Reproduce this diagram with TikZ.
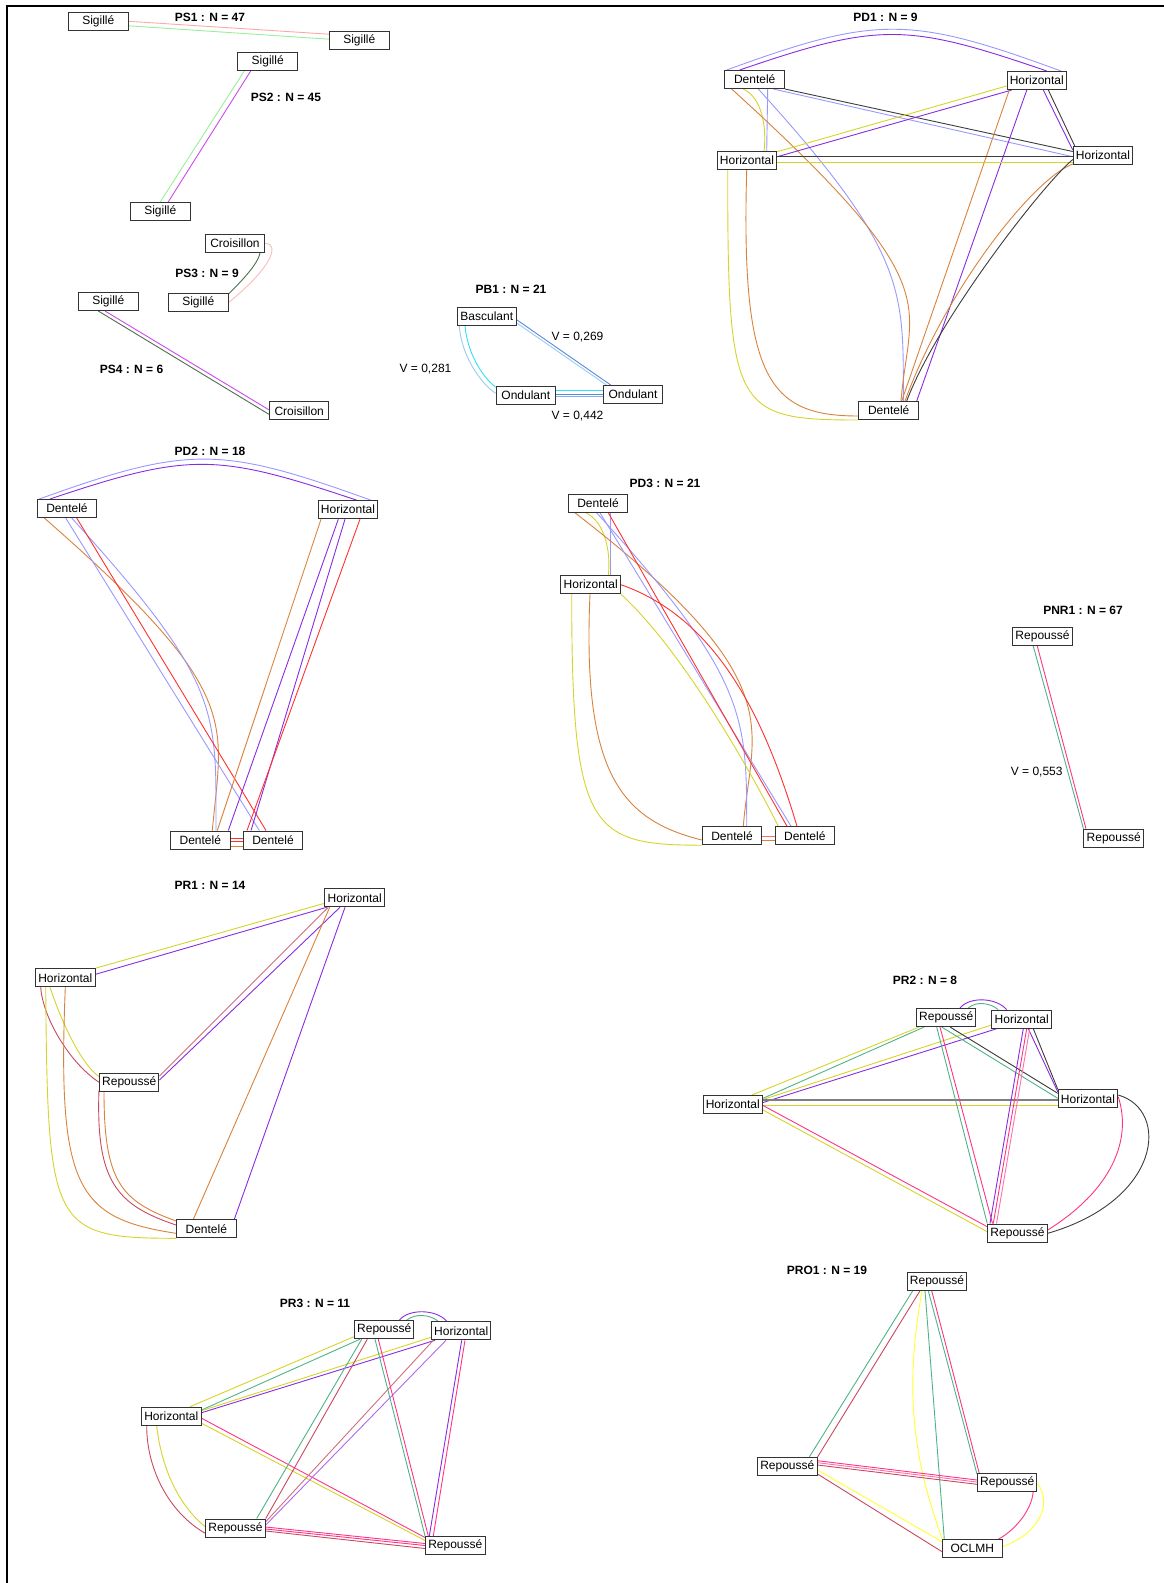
\documentclass[tikz,border=0pt]{standalone}
\usepackage{fontspec}
\setmainfont{Liberation Sans}
\usepackage{xcolor}
\usetikzlibrary{calc, positioning, backgrounds}
\definecolor{pspink}{HTML}{FFA8A8}
\definecolor{psgreen}{HTML}{98F098}
\definecolor{psmag}{HTML}{D048F0}
\definecolor{psdark}{HTML}{4F6F4F}
\definecolor{pbcyan}{HTML}{30E0F0}
\definecolor{pblight}{HTML}{98CCF0}
\definecolor{pbsteel}{HTML}{5A88D8}
\definecolor{pdblue}{HTML}{9898FF}
\definecolor{pdviolet}{HTML}{8A2BE2}
\definecolor{pdorange}{HTML}{D9823B}
\definecolor{pdyel}{HTML}{D4D42A}
\definecolor{pdblack}{HTML}{3C3C3C}
\definecolor{pdred}{HTML}{FF3030}
\definecolor{prpink}{HTML}{FF3385}
\definecolor{prgreen}{HTML}{4FB386}
\definecolor{prcrim}{HTML}{C8485F}
\definecolor{prgray}{HTML}{7F7F7F}
\definecolor{bryel}{HTML}{FFFF30}

\begin{document}
\begin{tikzpicture}[
  x=1pt, y=-1pt,
  font=\fontsize{12}{14}\selectfont,
  block/.style={draw=black!80, fill=white, line width=1pt, inner sep=1pt,
                minimum width=59.5pt, minimum height=18pt},
  ttl/.style={font=\fontsize{12}{14}\selectfont\bfseries, inner sep=0pt},
  vlab/.style={inner sep=0pt},
  lnk/.style={line width=0.9pt}
]
\useasboundingbox (0,0) rectangle (1164,1583);
\draw[line width=2pt] (7,1583) -- (7,5.7) -- (1164,5.7);

% ---------------- PS ----------------
\node[ttl] (tps1) at (210,17.3) {PS1 : N = 47};
\node[block] (s1a) at (98.3,21.3) {Sigillé};
\node[block] (s1b) at (359.3,40.2) {Sigillé};
\node[block] (s2a) at (267.7,61.5) {Sigillé};
\node[ttl] (tps2) at (286,97.7) {PS2 : N = 45};
\node[block] (s2b) at (160.3,211.3) {Sigillé};
\node[block] (s3c) at (235,243.3) {Croisillon};
\node[ttl] (tps3) at (207,273.3) {PS3 : N = 9};
\node[block] (s3s) at (198.3,302.5) {Sigillé};
\node[block] (s4s) at (108.3,301.5) {Sigillé};
\node[ttl] (tps4) at (131.5,369.3) {PS4 : N = 6};
\node[block] (s4c) at (299.2,410.8) {Croisillon};

% ---------------- PB1 ----------------
\node[ttl] (tpb1) at (511,289.3) {PB1 : N = 21};
\node[block] (bas) at (486.8,316.2) {Basculant};
\node[block] (ond1) at (525.8,395.2) {Ondulant};
\node[block] (ond2) at (633,394.7) {Ondulant};
\node[vlab] (vb1) at (577.5,336.7) {V = 0,269};
\node[vlab] (vb2) at (425.5,369.3) {V = 0,281};
\node[vlab] (vb3) at (577.5,416) {V = 0,442};

% ---------------- PD1 ----------------
\node[ttl] (tpd1) at (885.5,17.3) {PD1 : N = 9};
\node[block] (d1a) at (754.7,79.5) {Dentelé};
\node[block] (d1h) at (1036.8,80.5) {Horizontal};
\node[block] (d1l) at (747,160.5) {Horizontal};
\node[block] (d1r) at (1103,155.5) {Horizontal};
\node[block] (d1b) at (888.7,410.5) {Dentelé};

% ---------------- PD2 ----------------
\node[ttl] (tpd2) at (210,451.7) {PD2 : N = 18};
\node[block] (d2a) at (67,508.5) {Dentelé};
\node[block] (d2h) at (348,509.7) {Horizontal};
\node[block] (d2l) at (200.3,840) {Dentelé};
\node[block, right=12.2pt of d2l] (d2r) {Dentelé};

% ---------------- PD3 ----------------
\node[ttl] (tpd3) at (665,483.3) {PD3 : N = 21};
\node[block] (d3a) at (598,503.3) {Dentelé};
\node[block] (d3h) at (590.7,584.7) {Horizontal};
\node[block] (d3l) at (732,835.7) {Dentelé};
\node[block, right=12.3pt of d3l] (d3r) {Dentelé};

% ---------------- PNR1 ----------------
\node[ttl] (tpn1) at (1083,610) {PNR1 : N = 67};
\node[block] (n1a) at (1042.5,636.7) {Repoussé};
\node[block] (n1b) at (1113.7,838.2) {Repoussé};
\node[vlab] (vn1) at (1036.7,771.7) {V = 0,553};

% ---------------- PR1 ----------------
\node[ttl] (tpr1) at (210,885) {PR1 : N = 14};
\node[block] (r1h) at (354.7,897.8) {Horizontal};
\node[block] (r1l) at (65.3,977.7) {Horizontal};
\node[block] (r1r) at (129.2,1082.2) {Repoussé};
\node[block] (r1d) at (206.3,1228.8) {Dentelé};

% ---------------- PR2 ----------------
\node[ttl] (tpr2) at (925,980.7) {PR2 : N = 8};
\node[block] (r2r) at (946.2,1017.5) {Repoussé};
\node[block] (r2h) at (1021.7,1019.2) {Horizontal};
\node[block] (r2l) at (732.8,1104.5) {Horizontal};
\node[block] (r2e) at (1088,1098.8) {Horizontal};
\node[block] (r2b) at (1017.5,1233) {Repoussé};

% ---------------- PR3 ----------------
\node[ttl] (tpr3) at (315,1303.3) {PR3 : N = 11};
\node[block] (r3r) at (384.2,1329.7) {Repoussé};
\node[block] (r3h) at (461.2,1330.8) {Horizontal};
\node[block] (r3l) at (171.3,1416.2) {Horizontal};
\node[block] (r3a) at (235.5,1528) {Repoussé};
\node[block] (r3b) at (455.3,1545.5) {Repoussé};

% ---------------- PRO1 ----------------
\node[ttl] (tpo1) at (827,1270) {PRO1 : N = 19};
\node[block] (o1t) at (937,1281.3) {Repoussé};
\node[block] (o1l) at (787.3,1466.5) {Repoussé};
\node[block] (o1r) at (1007.2,1482.5) {Repoussé};
\node[block] (o1m) at (972.3,1548.7) {OCLMH};

% ---------------- Links ----------------
\begin{scope}[on background layer]
% PS
\draw[lnk, pspink] (s1a.east) -- ($(s1b.west)+(0,-6)$);
\draw[lnk, psgreen] ($(s1a.east)+(0,4.5)$) -- ($(s1b.west)+(0,-1)$);
\draw[lnk, psgreen] ($(s2a.south)+(-23.4,0)$) -- (s2b.north);
\draw[lnk, psmag] ($(s2a.south)+(-17,0)$) -- ($(s2b.north)+(8,0)$);
\draw[lnk, psdark] ($(s3c.south)+(25,0)$) .. controls +(-2,12) and +(10,-10) .. ($(s3s.north east)+(0,1)$);
\draw[lnk, pspink!80] (s3c.east) .. controls +(13,0) and +(47,-38) .. (s3s.east);
\draw[lnk, psmag] ($(s4s.south)+(-3.3,0)$) -- ($(s4c.west)+(0,-1)$);
\draw[lnk, psdark] ($(s4s.south)+(-10,0)$) -- ($(s4c.west)+(0,3.5)$);

% PB1
\draw[lnk, pbcyan] ($(bas.south)+(-21.8,0)$) .. controls +(2,25) and +(-15,-12) .. ($(ond1.west)+(0,-8)$);
\draw[lnk, pblight] ($(bas.south)+(-27.5,0)$) .. controls +(2,30) and +(-15,-10) .. ($(ond1.west)+(0,-2)$);
\draw[lnk, pbsteel] ($(bas.east)+(0,3.8)$) -- ($(ond2.north)+(-22,0)$);
\draw[lnk, pblight] ($(bas.east)+(0,7)$) -- ($(ond2.north)+(-26.3,0)$);
\draw[lnk, pbcyan] ($(ond1.east)+(0,-5)$) -- ($(ond2.west)+(0,-4.5)$);
\draw[lnk, pbsteel] ($(ond1.east)+(0,-1)$) -- ($(ond2.west)+(0,-0.5)$);
\draw[lnk, pbsteel!70] ($(ond1.east)+(0,1)$) -- ($(ond2.west)+(0,1.5)$);

% PD1
\draw[lnk, pdblue] ($(d1a.north)+(-28,0)$) .. controls +(150,-55) and +(-150,-55) .. ($(d1h.north)+(24.2,0)$);
\draw[lnk, pdviolet] ($(d1a.north)+(-15,0)$) .. controls +(140,-48) and +(-140,-48) .. ($(d1h.north)+(10,0)$);
\draw[lnk, pdblack] (d1a.south east) -- ($(d1r.west)+(0,-4)$);
\draw[lnk, pdblue] ($(d1a.south)+(18.6,0)$) -- ($(d1r.west)+(0,1.2)$);
\draw[lnk, pdblue] ($(d1a.south)+(13,0)$) -- ($(d1l.north)+(19.7,0)$);
\draw[lnk, pdyel] ($(d1a.south)+(-11.4,0)$) .. controls +(18,8) and +(3,-25) .. ($(d1l.north)+(17,0)$);
\draw[lnk, pdblue] ($(d1a.south)+(3.6,0)$) .. controls +(150,165) and +(0,-110) .. ($(d1b.north)+(14.6,0)$);
\draw[lnk, pdorange] ($(d1a.south)+(-23,0)$) .. controls +(220,200) and +(8,-100) .. ($(d1b.north)+(12.3,0)$);
\draw[lnk, pdyel] ($(d1h.west)+(0,5.5)$) -- ($(d1l.east)+(0,-8.8)$);
\draw[lnk, pdviolet] ($(d1h.south)+(-25,0)$) -- ($(d1l.east)+(0,-3.8)$);
\draw[lnk, pdviolet] ($(d1h.south)+(6.5,0)$) -- ($(d1r.west)+(0,-5.5)$);
\draw[lnk, pdblack] ($(d1h.south)+(11.5,0)$) -- ($(d1r.north west)+(2,0)$);
\draw[lnk, pdorange] ($(d1h.south)+(-27.5,0)$) -- ($(d1b.north)+(13,0)$);
\draw[lnk, pdviolet] ($(d1h.south)+(-10,0)$) -- ($(d1b.north)+(28,0)$);
\draw[lnk, pdblack] ($(d1l.east)+(0,-4.5)$) -- ($(d1r.west)+(0,0.5)$);
\draw[lnk, pdyel, line width=1.6pt] ($(d1l.east)+(0,1.8)$) -- ($(d1r.west)+(0,6.8)$);
\draw[lnk, pdyel] ($(d1l.south)+(-19.3,0)$) .. controls +(0,240) and +(-125,0) .. (d1b.south west);
\draw[lnk, pdorange] ($(d1l.south)+(-0.3,0)$) .. controls +(-6,210) and +(-89,0) .. ($(d1b.west)+(0,5.5)$);
\draw[lnk, pdorange] ($(d1r.south west)+(0,-1)$) .. controls +(-40,15) and +(40,-110) .. ($(d1b.north)+(16.3,0)$);
\draw[lnk, pdblack] ($(d1r.west)+(0,4)$) .. controls +(-30,25) and +(30,-80) .. ($(d1b.north)+(18,0)$);

% PD2
\draw[lnk, pdblue] ($(d2a.north)+(-27.7,0)$) .. controls +(150,-54) and +(-150,-54) .. ($(d2h.north)+(23,0)$);
\draw[lnk, pdviolet] ($(d2a.north)+(-17,0)$) .. controls +(140,-47) and +(-140,-47) .. ($(d2h.north)+(8.7,0)$);
\draw[lnk, pdorange] ($(d2a.south)+(-22.7,0)$) .. controls +(200,175) and +(10,-110) .. ($(d2l.north)+(12,0)$);
\draw[lnk, pdblue] ($(d2a.south)+(4.7,0)$) .. controls +(150,165) and +(0,-120) .. ($(d2l.north)+(15.7,0)$);
\draw[lnk, pdblue] ($(d2a.south)+(-1.3,0)$) -- ($(d2r.north)+(-13.7,0)$);
\draw[lnk, pdred] ($(d2a.south)+(9.7,0)$) -- ($(d2r.north)+(-7,0)$);
\draw[lnk, pdorange] ($(d2h.south)+(-27,0)$) -- ($(d2l.north)+(17,0)$);
\draw[lnk, pdviolet] ($(d2h.south)+(-9.7,0)$) -- ($(d2l.north)+(28,0)$);
\draw[lnk, pdviolet] ($(d2h.south)+(-3,0)$) -- ($(d2r.north)+(-22,0)$);
\draw[lnk, pdred] ($(d2h.south)+(12,0)$) -- ($(d2r.north)+(-26,0)$);
\draw[lnk, pdred] ($(d2l.east)+(0,-1.5)$) -- ($(d2r.west)+(0,-1.5)$);
\draw[lnk, pdred] ($(d2l.east)+(0,1.5)$) -- ($(d2r.west)+(0,1.5)$);
\draw[lnk, pdorange] ($(d2l.east)+(0,6)$) -- ($(d2r.west)+(0,6)$);

% PD3
\draw[lnk, pdyel] ($(d3a.south)+(-12.3,0)$) .. controls +(18,8) and +(3,-25) .. ($(d3h.north)+(17.6,0)$);
\draw[lnk, pdblue] ($(d3a.south)+(12.7,0)$) -- ($(d3h.north)+(20,0)$);
\draw[lnk, pdorange] ($(d3a.south)+(-23,0)$) .. controls +(220,170) and +(8,-100) .. ($(d3l.north)+(11.3,0)$);
\draw[lnk, pdblue] ($(d3a.south)+(-1.3,0)$) .. controls +(150,165) and +(0,-110) .. ($(d3l.north)+(14.7,0)$);
\draw[lnk, pdblue] ($(d3a.south)+(2,0)$) -- ($(d3r.north)+(-13.8,0)$);
\draw[lnk, pdred] ($(d3a.south)+(10.3,0)$) -- ($(d3r.north)+(-17.8,0)$);
\draw[lnk, pdred] (d3h.east) .. controls +(100,35) and +(-30,-100) .. ($(d3r.north)+(-7.8,0)$);
\draw[lnk, pdyel] (d3h.south east) .. controls +(60,55) and +(-30,-60) .. ($(d3r.north)+(-26.5,0)$);
\draw[lnk, pdyel] ($(d3h.south)+(-19,0)$) .. controls +(0,236) and +(-112,0) .. (d3l.south west);
\draw[lnk, pdorange] ($(d3h.south)+(-0.7,0)$) .. controls +(-8,180) and +(-80,-20) .. ($(d3l.west)+(0,4.3)$);
\draw[lnk, pdred!70] ($(d3l.east)+(0,0.3)$) -- ($(d3r.west)+(0,0.3)$);
\draw[lnk, pdorange] ($(d3l.east)+(0,5)$) -- ($(d3r.west)+(0,5)$);

% PNR1
\draw[lnk, prgreen] ($(n1a.south)+(-9.2,0)$) -- (n1b.north west);
\draw[lnk, prpink] ($(n1a.south)+(-5.2,0)$) -- ($(n1b.north)+(-27.7,0)$);

% PR1
\draw[lnk, pdyel] (r1l.north east) -- ($(r1h.west)+(0,5.5)$);
\draw[lnk, pdviolet] ($(r1l.east)+(0,-3.4)$) -- ($(r1h.south)+(-28,0)$);
\draw[lnk, prcrim!80] ($(r1h.south)+(-26.4,0)$) -- ($(r1r.east)+(0,-6.2)$);
\draw[lnk, pdviolet] ($(r1h.south)+(-14.7,0)$) -- ($(r1r.east)+(0,-2.2)$);
\draw[lnk, pdorange] ($(r1h.south)+(-25,0)$) -- ($(r1d.north)+(-13,0)$);
\draw[lnk, pdviolet] ($(r1h.south)+(-9.7,0)$) -- ($(r1d.north)+(28,0)$);
\draw[lnk, prcrim] ($(r1l.south)+(-24.6,0)$) .. controls +(2,30) and +(-30,-20) .. (r1r.west);
\draw[lnk, pdyel] ($(r1l.south)+(-15.3,0)$) .. controls +(10,30) and +(-20,-15) .. ($(r1r.west)+(0,-5.5)$);
\draw[lnk, pdyel] ($(r1l.south)+(-19.6,0)$) .. controls +(2,240) and +(-125,0) .. (r1d.south west);
\draw[lnk, pdorange] (r1l.south) .. controls +(-8,200) and +(-100,-15) .. ($(r1d.west)+(0,4.5)$);
\draw[lnk, prcrim] ($(r1r.south west)+(0,-1)$) .. controls +(-3,90) and +(-60,-20) .. ($(r1d.west)+(0,-3.8)$);
\draw[lnk, pdorange] ($(r1r.south)+(-25.2,0)$) .. controls +(0,90) and +(-55,-20) .. ($(r1d.west)+(0,-7.8)$);

% PR2
\draw[lnk, pdviolet] ($(r2r.north)+(13.8,0)$) .. controls +(10,-12) and +(-10,-12) .. ($(r2h.north)+(-15,0)$);
\draw[lnk, prgreen] ($(r2r.north)+(22,0)$) .. controls +(8,-7) and +(-8,-7) .. ($(r2h.north)+(-23.4,0)$);
\draw[lnk, pdyel] ($(r2l.north)+(19,0)$) -- ($(r2r.south)+(-27,0)$);
\draw[lnk, prgreen] ($(r2l.east)+(0,-6.2)$) -- ($(r2r.south)+(-22,0)$);
\draw[lnk, pdyel] ($(r2l.east)+(0,-5)$) -- ($(r2h.west)+(0,5.8)$);
\draw[lnk, pdviolet] ($(r2l.east)+(0,-2)$) -- ($(r2h.south)+(-25,0)$);
\draw[lnk, prgray, line width=1.6pt] ($(r2l.east)+(0,-4.5)$) -- ($(r2e.west)+(0,1.2)$);
\draw[lnk, pdyel] ($(r2l.east)+(0,0.8)$) -- ($(r2e.west)+(0,6.5)$);
\draw[lnk, prpink] ($(r2l.east)+(0,1)$) -- ($(r2b.west)+(0,-6.3)$);
\draw[lnk, pdyel] ($(r2l.east)+(0,5.5)$) -- ($(r2b.west)+(0,-1.3)$);
\draw[lnk, pdblack] ($(r2r.south)+(3.8,0)$) -- ($(r2e.west)+(0,-5.5)$);
\draw[lnk, prgreen] ($(r2r.south)+(-4.5,0)$) -- ($(r2e.west)+(0,-0.5)$);
\draw[lnk, prgreen] ($(r2r.south)+(-9.5,0)$) -- (r2b.north west);
\draw[lnk, prpink] ($(r2r.south)+(-6.2,0)$) -- ($(r2b.north)+(-25,0)$);
\draw[lnk, pdblack] ($(r2h.south)+(11.6,0)$) -- (r2e.north west);
\draw[lnk, pdviolet] ($(r2h.south)+(6.6,0)$) -- ($(r2e.west)+(0,-7)$);
\draw[lnk, pdviolet] ($(r2h.south)+(1.6,0)$) -- ($(r2b.north)+(-27.5,0)$);
\draw[lnk, prpink] ($(r2h.south)+(5,0)$) -- ($(r2b.north)+(-24.2,0)$);
\draw[lnk, prpink!70] ($(r2h.south)+(8,0)$) -- ($(r2b.north)+(-21,0)$);
\draw[lnk, prpink] ($(r2e.east)+(0,-2)$) .. controls +(14,43) and +(64,-40) .. ($(r2b.east)+(0,-3)$);
\draw[lnk, pdblack] ($(r2e.east)+(0,-3.8)$) .. controls +(52,15) and +(114,-33) .. ($(r2b.east)+(0,0.3)$);

% PR3
\draw[lnk, pdviolet] ($(r3r.north)+(15,0)$) .. controls +(10,-12) and +(-10,-12) .. ($(r3h.north)+(-14.5,0)$);
\draw[lnk, prgreen] ($(r3r.north)+(22.5,0)$) .. controls +(8,-7) and +(-8,-7) .. ($(r3h.north)+(-23,0)$);
\draw[lnk, pdyel] ($(r3l.north)+(18.7,0)$) -- ($(r3r.west)+(0,7)$);
\draw[lnk, prgreen] ($(r3l.east)+(0,-6.2)$) -- ($(r3r.south)+(-24.2,0)$);
\draw[lnk, pdyel] ($(r3l.east)+(0,-5.5)$) -- ($(r3h.west)+(0,6.5)$);
\draw[lnk, pdviolet] ($(r3l.east)+(0,-3.5)$) -- ($(r3h.south)+(-26.2,0)$);
\draw[lnk, prpink] ($(r3l.east)+(0,2)$) -- ($(r3b.west)+(0,-8)$);
\draw[lnk, pdyel] ($(r3l.east)+(0,7)$) -- ($(r3b.west)+(0,-5)$);
\draw[lnk, prcrim] ($(r3l.south)+(-24.6,0)$) .. controls +(0,45) and +(-35,-20) .. ($(r3a.west)+(0,5.3)$);
\draw[lnk, pdyel] ($(r3l.south)+(-14.6,0)$) .. controls +(5,45) and +(-25,-20) .. ($(r3a.west)+(0,-1.3)$);
\draw[lnk, prgreen] ($(r3r.south)+(-22.5,0)$) -- ($(r3a.north)+(21.2,0)$);
\draw[lnk, prcrim] ($(r3r.south)+(-16.9,0)$) -- (r3a.north east);
\draw[lnk, prcrim!80] ($(r3h.south)+(-27.9,0)$) -- ($(r3a.east)+(0,-6.3)$);
\draw[lnk, pdviolet!70] ($(r3h.south)+(-15.2,0)$) -- ($(r3a.east)+(0,-3)$);
\draw[lnk, prgreen] ($(r3r.south)+(-9.2,0)$) -- (r3b.north west);
\draw[lnk, prpink] ($(r3r.south)+(-5.9,0)$) -- ($(r3b.north)+(-27,0)$);
\draw[lnk, pdviolet] ($(r3h.south)+(0.5,0)$) -- ($(r3b.north)+(-26,0)$);
\draw[lnk, prpink] ($(r3h.south)+(3.8,0)$) -- ($(r3b.north)+(-22,0)$);
\draw[lnk, prpink] ($(r3a.east)+(0,-1)$) -- ($(r3b.west)+(0,-2)$);
\draw[lnk, prpink] ($(r3a.east)+(0,1)$) -- (r3b.west);
\draw[lnk, prcrim] ($(r3a.east)+(0,3)$) -- ($(r3b.west)+(0,3)$);

% PRO1
\draw[lnk, prgreen] ($(o1t.south)+(-24.3,0)$) -- ($(o1l.north)+(22,0)$);
\draw[lnk, prcrim] ($(o1t.south)+(-17,0)$) -- (o1l.north east);
\draw[lnk, bryel] ($(o1t.south)+(-15,0)$) .. controls +(-20,110) and +(-25,-70) .. ($(o1m.north)+(-30,0)$);
\draw[lnk, prgreen] ($(o1t.south)+(-12,0)$) -- ($(o1m.north)+(-28,0)$);
\draw[lnk, prgreen] ($(o1t.south)+(-8.7,0)$) -- ($(o1r.north west)+(0,1)$);
\draw[lnk, prpink] ($(o1t.south)+(-5.3,0)$) -- ($(o1r.north)+(-28,0)$);
\draw[lnk, prpink] ($(o1l.east)+(0,-5.8)$) -- ($(o1r.west)+(0,-2.5)$);
\draw[lnk, prpink!70] ($(o1l.east)+(0,-3.8)$) -- ($(o1r.west)+(0,-0.5)$);
\draw[lnk, prcrim] ($(o1l.east)+(0,-1.5)$) -- ($(o1r.west)+(0,1.8)$);
\draw[lnk, bryel] ($(o1l.east)+(0,3.5)$) -- ($(o1m.west)+(0,-7)$);
\draw[lnk, prcrim] ($(o1l.east)+(0,7.5)$) -- ($(o1m.west)+(0,3)$);
\draw[lnk, prpink] ($(o1r.south)+(26,0)$) .. controls +(-2,20) and +(15,-8) .. ($(o1m.north)+(26,0)$);
\draw[lnk, bryel] ($(o1r.east)+(0,1)$) .. controls +(14,18) and +(40,-15) .. ($(o1m.east)+(0,-2)$);
\end{scope}

\end{tikzpicture}
\end{document}
